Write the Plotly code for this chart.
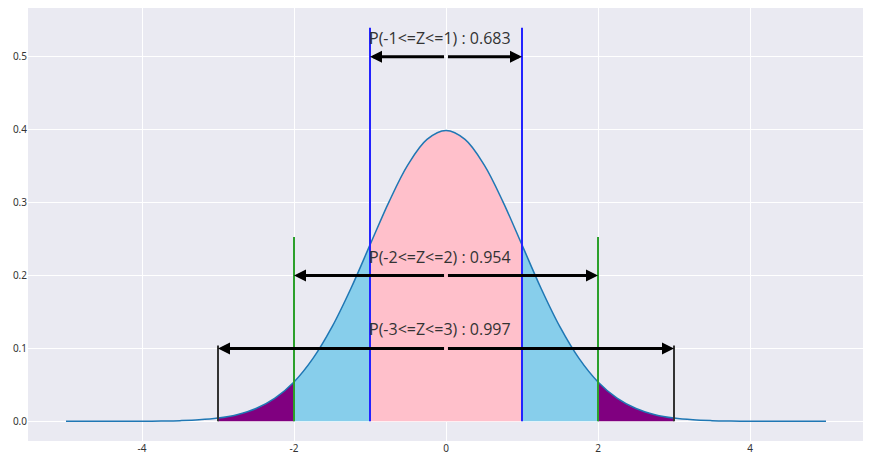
import plotly.graph_objects as go

BG_COLOR: str = '#EAEAF2'
CURVE_COLOR: str = '#1f77b4'
TEXT_COLOR: str = '#333333'

# standard normal density
z_values: list = [-5.0, -4.75, -4.5, -4.25, -4.0, -3.75, -3.5, -3.25, -3.0, -2.75,
                  -2.5, -2.25, -2.0, -1.75, -1.5, -1.25, -1.0, -0.75, -0.5, -0.25,
                  0.0, 0.25, 0.5, 0.75, 1.0, 1.25, 1.5, 1.75, 2.0, 2.25,
                  2.5, 2.75, 3.0, 3.25, 3.5, 3.75, 4.0, 4.25, 4.5, 4.75, 5.0]
density: list = [0.0, 0.0, 0.0, 0.0001, 0.0001, 0.0004, 0.0009, 0.002, 0.0044, 0.0091,
                 0.0175, 0.0317, 0.054, 0.0863, 0.1295, 0.1826, 0.242, 0.3011, 0.3521, 0.3867,
                 0.3989, 0.3867, 0.3521, 0.3011, 0.242, 0.1826, 0.1295, 0.0863, 0.054, 0.0317,
                 0.0175, 0.0091, 0.0044, 0.002, 0.0009, 0.0004, 0.0001, 0.0001, 0.0, 0.0, 0.0]

x_ticks: list = [-4, -2, 0, 2, 4]
x_tick_labels: list = ['-4', '-2', '0', '2', '4']
y_ticks: list = [0.0, 0.1, 0.2, 0.3, 0.4, 0.5]

sigmas: list = [1, 2, 3]
probs: list = [0.683, 0.954, 0.997]
arrow_heights: list = [0.5, 0.2, 0.1]
line_tops: list = [0.54, 0.253, 0.104]
line_colors: list = ['#2323ff', '#2ca02c', '#333333']

# (left, right, colour) of each shaded band
bands: list = [
    (-1, 1, 'pink'),
    (-2, -1, 'skyblue'), (1, 2, 'skyblue'),
    (-3, -2, 'purple'), (2, 3, 'purple'),
]


def band_trace(lo: float, hi: float, color: str) -> go.Scatter:
    xs = [z for z in z_values if lo <= z <= hi]
    ys = [d for z, d in zip(z_values, density) if lo <= z <= hi]
    return go.Scatter(x=xs, y=ys, mode='lines', fill='tozeroy', fillcolor=color,
                      line={'width': 0, 'shape': 'spline'}, hoverinfo='skip')


def add_arrow(fig: go.Figure, x_tip: float, x_tail: float, y: float) -> None:
    fig.add_annotation(x=x_tip, y=y, ax=x_tail, ay=y, xref='x', yref='y',
                       axref='x', ayref='y', text='', showarrow=True,
                       arrowhead=2, arrowsize=0.8, arrowwidth=3,
                       arrowcolor='black', standoff=0, startstandoff=0)


if __name__ == '__main__':
    fig = go.Figure()

    for lo, hi, color in bands:
        fig.add_trace(band_trace(lo, hi, color))

    fig.add_trace(go.Scatter(x=z_values, y=density, mode='lines',
                             line={'color': CURVE_COLOR, 'width': 1.5, 'shape': 'spline'}))

    for s, p, h, top, c in zip(sigmas, probs, arrow_heights, line_tops, line_colors):
        for side in (-s, s):
            fig.add_trace(go.Scatter(x=[side, side], y=[0, top], mode='lines',
                                     line={'color': c, 'width': 2}))
        # two halves leave the little gap at 0 seen in the reference
        add_arrow(fig, -s, -0.006, h)
        add_arrow(fig, s, 0.006, h)
        fig.add_annotation(x=-1, y=h + 0.026, xref='x', yref='y',
                           text=f'P({-s}<=Z<={s}) : {p}', showarrow=False,
                           xanchor='left', yanchor='middle', xshift=-3,
                           font={'family': 'Open Sans', 'size': 16, 'color': TEXT_COLOR})

    # page body has an 8px margin, so the margins here are shifted by it
    fig.update_layout(
        width=871, height=465,
        margin={'l': 20, 'r': 15, 't': 0, 'b': 32},
        paper_bgcolor='white',
        plot_bgcolor=BG_COLOR,
        showlegend=False,
        font={'family': 'Noto Sans', 'size': 10, 'color': TEXT_COLOR},
        xaxis={
            'range': [-5.5, 5.5],
            'tickvals': x_ticks,
            'ticktext': x_tick_labels,
            'showgrid': True, 'gridcolor': 'white', 'gridwidth': 1,
            'zeroline': False, 'showline': False, 'automargin': False,
        },
        yaxis={
            'range': [-0.027, 0.567],
            'tickvals': y_ticks,
            'tickformat': '.1f',
            'showgrid': True, 'gridcolor': 'white', 'gridwidth': 1,
            'zeroline': False, 'showline': False, 'automargin': False,
        },
    )

    fig.write_html('out.html')
